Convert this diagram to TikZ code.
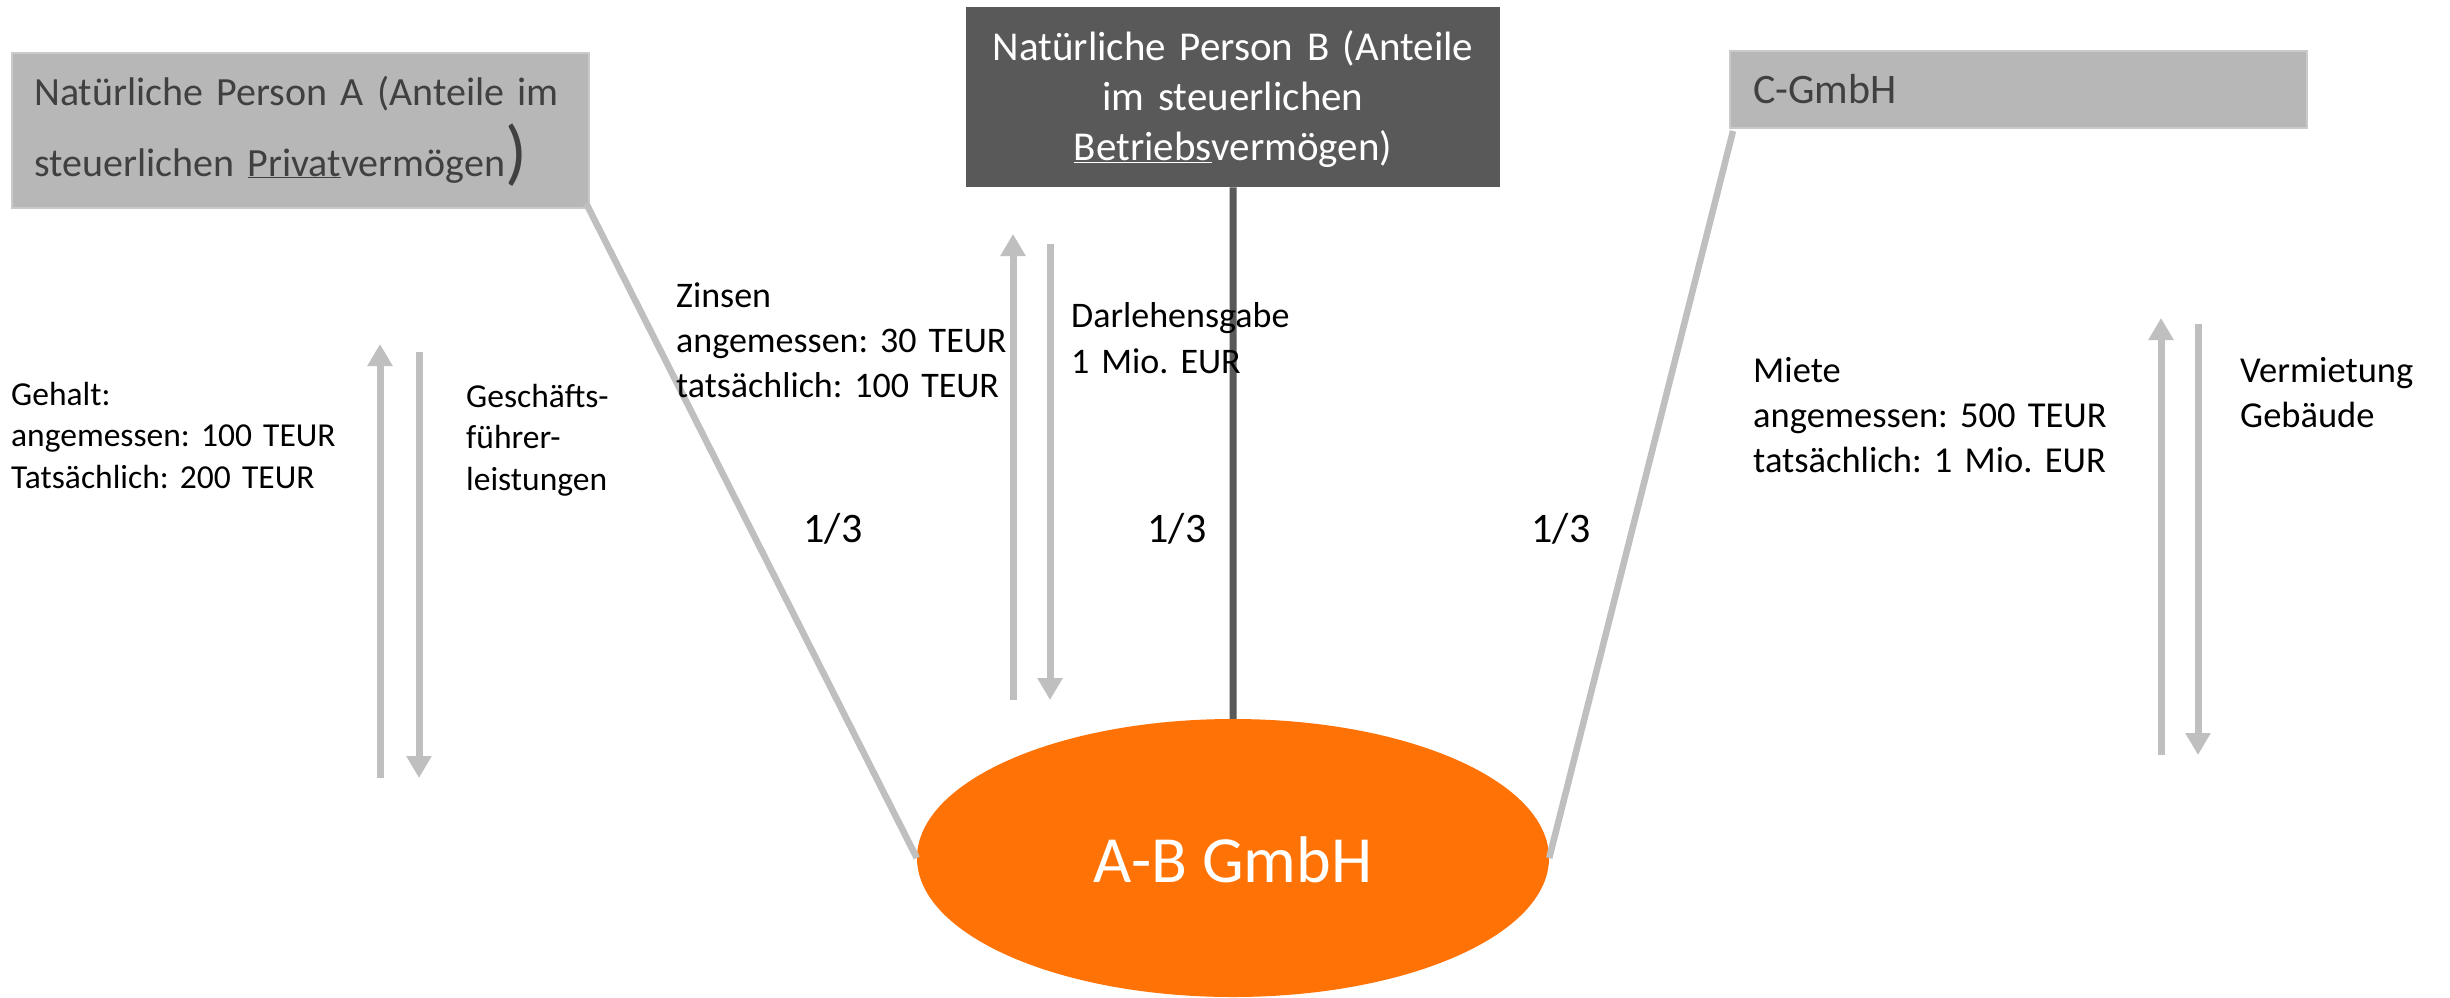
\documentclass[tikz,border=0pt]{standalone}
\usepackage{fontspec}
\setmainfont{Carlito}
\usetikzlibrary{arrows.meta,shapes.geometric}
\definecolor{boxgray}{HTML}{B7B7B7}
\definecolor{boxedge}{HTML}{CACACA}
\definecolor{darkbox}{HTML}{595959}
\definecolor{txtgray}{HTML}{404040}
\definecolor{linegray}{HTML}{BFBFBF}
\definecolor{abOrange}{HTML}{FF7306}
\frenchspacing
\begin{document}
\frenchspacing
\begin{tikzpicture}[x=1pt,y=-1pt,
  lightbox/.style={draw=boxedge,line width=2pt,fill=boxgray,inner sep=0pt,anchor=north west},
  darkboxst/.style={fill=darkbox,inner sep=0pt,anchor=north west},
  boxtext/.style={inner sep=0pt,font=\frenchspacing\fontsize{41}{50}\selectfont},
  lblA/.style={anchor=base west,inner sep=0pt,align=left,text width=700pt,font=\frenchspacing\fontsize{33.5}{41.5}\selectfont},
  lblB/.style={anchor=base west,inner sep=0pt,align=left,text width=700pt,font=\frenchspacing\fontsize{36}{45}\selectfont},
  lblC/.style={anchor=base west,inner sep=0pt,align=left,text width=700pt,font=\frenchspacing\fontsize{36.5}{45}\selectfont},
  third/.style={anchor=base,inner sep=0pt,font=\fontsize{42}{50}\selectfont},
  share/.style={draw=linegray,line width=6.5pt},
  flow/.style={draw=linegray,line width=7pt,-{Triangle[width=24pt,length=22pt]}}
]
\useasboundingbox (0,0) rectangle (2450,997);
\fill[white] (0,0) rectangle (2450,997);

% boxes
\node[lightbox,minimum width=577pt,minimum height=155pt] (boxA) at (11,52) {};
\node[boxtext,anchor=base west,align=left,text width=800pt,text=txtgray,
      font=\frenchspacing\fontsize{40}{71}\selectfont] (boxAtxt) at (34,105)
  {Natürliche Person A (Anteile im\\steuerlichen \underline{Privat}vermögen{\fontsize{72}{72}\selectfont)}};

\node[darkboxst,minimum width=534pt,minimum height=180pt] (boxB) at (966,7) {};
\node[boxtext,anchor=base,align=center,text width=700pt,text=white] (boxBtxt) at (1233,60)
  {Natürliche Person B (Anteile\\im steuerlichen\\\underline{Betriebs}vermögen)};

\node[lightbox,minimum width=577pt,minimum height=77pt] (boxC) at (1729,50) {};
\node[boxtext,anchor=base west,text=txtgray,font=\fontsize{42}{50}\selectfont] (boxCtxt) at (1753,103) {C-GmbH};

% ellipse
\node[ellipse,fill=abOrange,inner sep=0pt,minimum width=632pt,minimum height=278pt] (ab) at (1233,858) {};
\node[inner sep=0pt,anchor=base,text=white,font=\fontsize{66}{70}\selectfont] (abtxt) at (1233,882) {A-B GmbH};

% shareholder lines
\coordinate (cA) at (586,203);
\coordinate (cC) at (1733,131);
\draw[share] (cA) -- (ab.west);
\draw[share] (cC) -- (ab.east);
\draw[draw=darkbox,line width=7pt] (boxB.south) -- (ab.north);

% flow arrows
\coordinate (l1b) at (380,778); \coordinate (l1t) at (380,344);
\coordinate (l2t) at (419,352); \coordinate (l2b) at (419,778);
\coordinate (m1b) at (1013,700); \coordinate (m1t) at (1013,234);
\coordinate (m2t) at (1050,244); \coordinate (m2b) at (1050,700);
\coordinate (r1b) at (2161,755); \coordinate (r1t) at (2161,318);
\coordinate (r2t) at (2198,324); \coordinate (r2b) at (2198,755);
\draw[flow] (l1b) -- (l1t);
\draw[flow] (l2t) -- (l2b);
\draw[flow] (m1b) -- (m1t);
\draw[flow] (m2t) -- (m2b);
\draw[flow] (r1b) -- (r1t);
\draw[flow] (r2t) -- (r2b);

% labels
\node[lblA] (gehalt) at (11,405) {Gehalt:\\angemessen: 100 TEUR\\Tatsächlich: 200 TEUR};
\node[lblA] (gf) at (466,407) {Geschäfts-\\führer-\\leistungen};
\node[lblB] (zinsen) at (676,307) {Zinsen\\angemessen: 30 TEUR\\tatsächlich: 100 TEUR};
\node[lblB,font=\frenchspacing\fontsize{36}{46}\selectfont] (darl) at (1071,327) {Darlehensgabe\\1 Mio. EUR};
\node[lblC] (miete) at (1753,382) {Miete\\angemessen: 500 TEUR\\tatsächlich: 1 Mio. EUR};
\node[lblC] (verm) at (2240,382) {Vermietung\\Gebäude};

\node[third] (t1) at (833,542) {1/3};
\node[third] (t2) at (1177,542) {1/3};
\node[third] (t3) at (1561,542) {1/3};
\end{tikzpicture}
\end{document}
